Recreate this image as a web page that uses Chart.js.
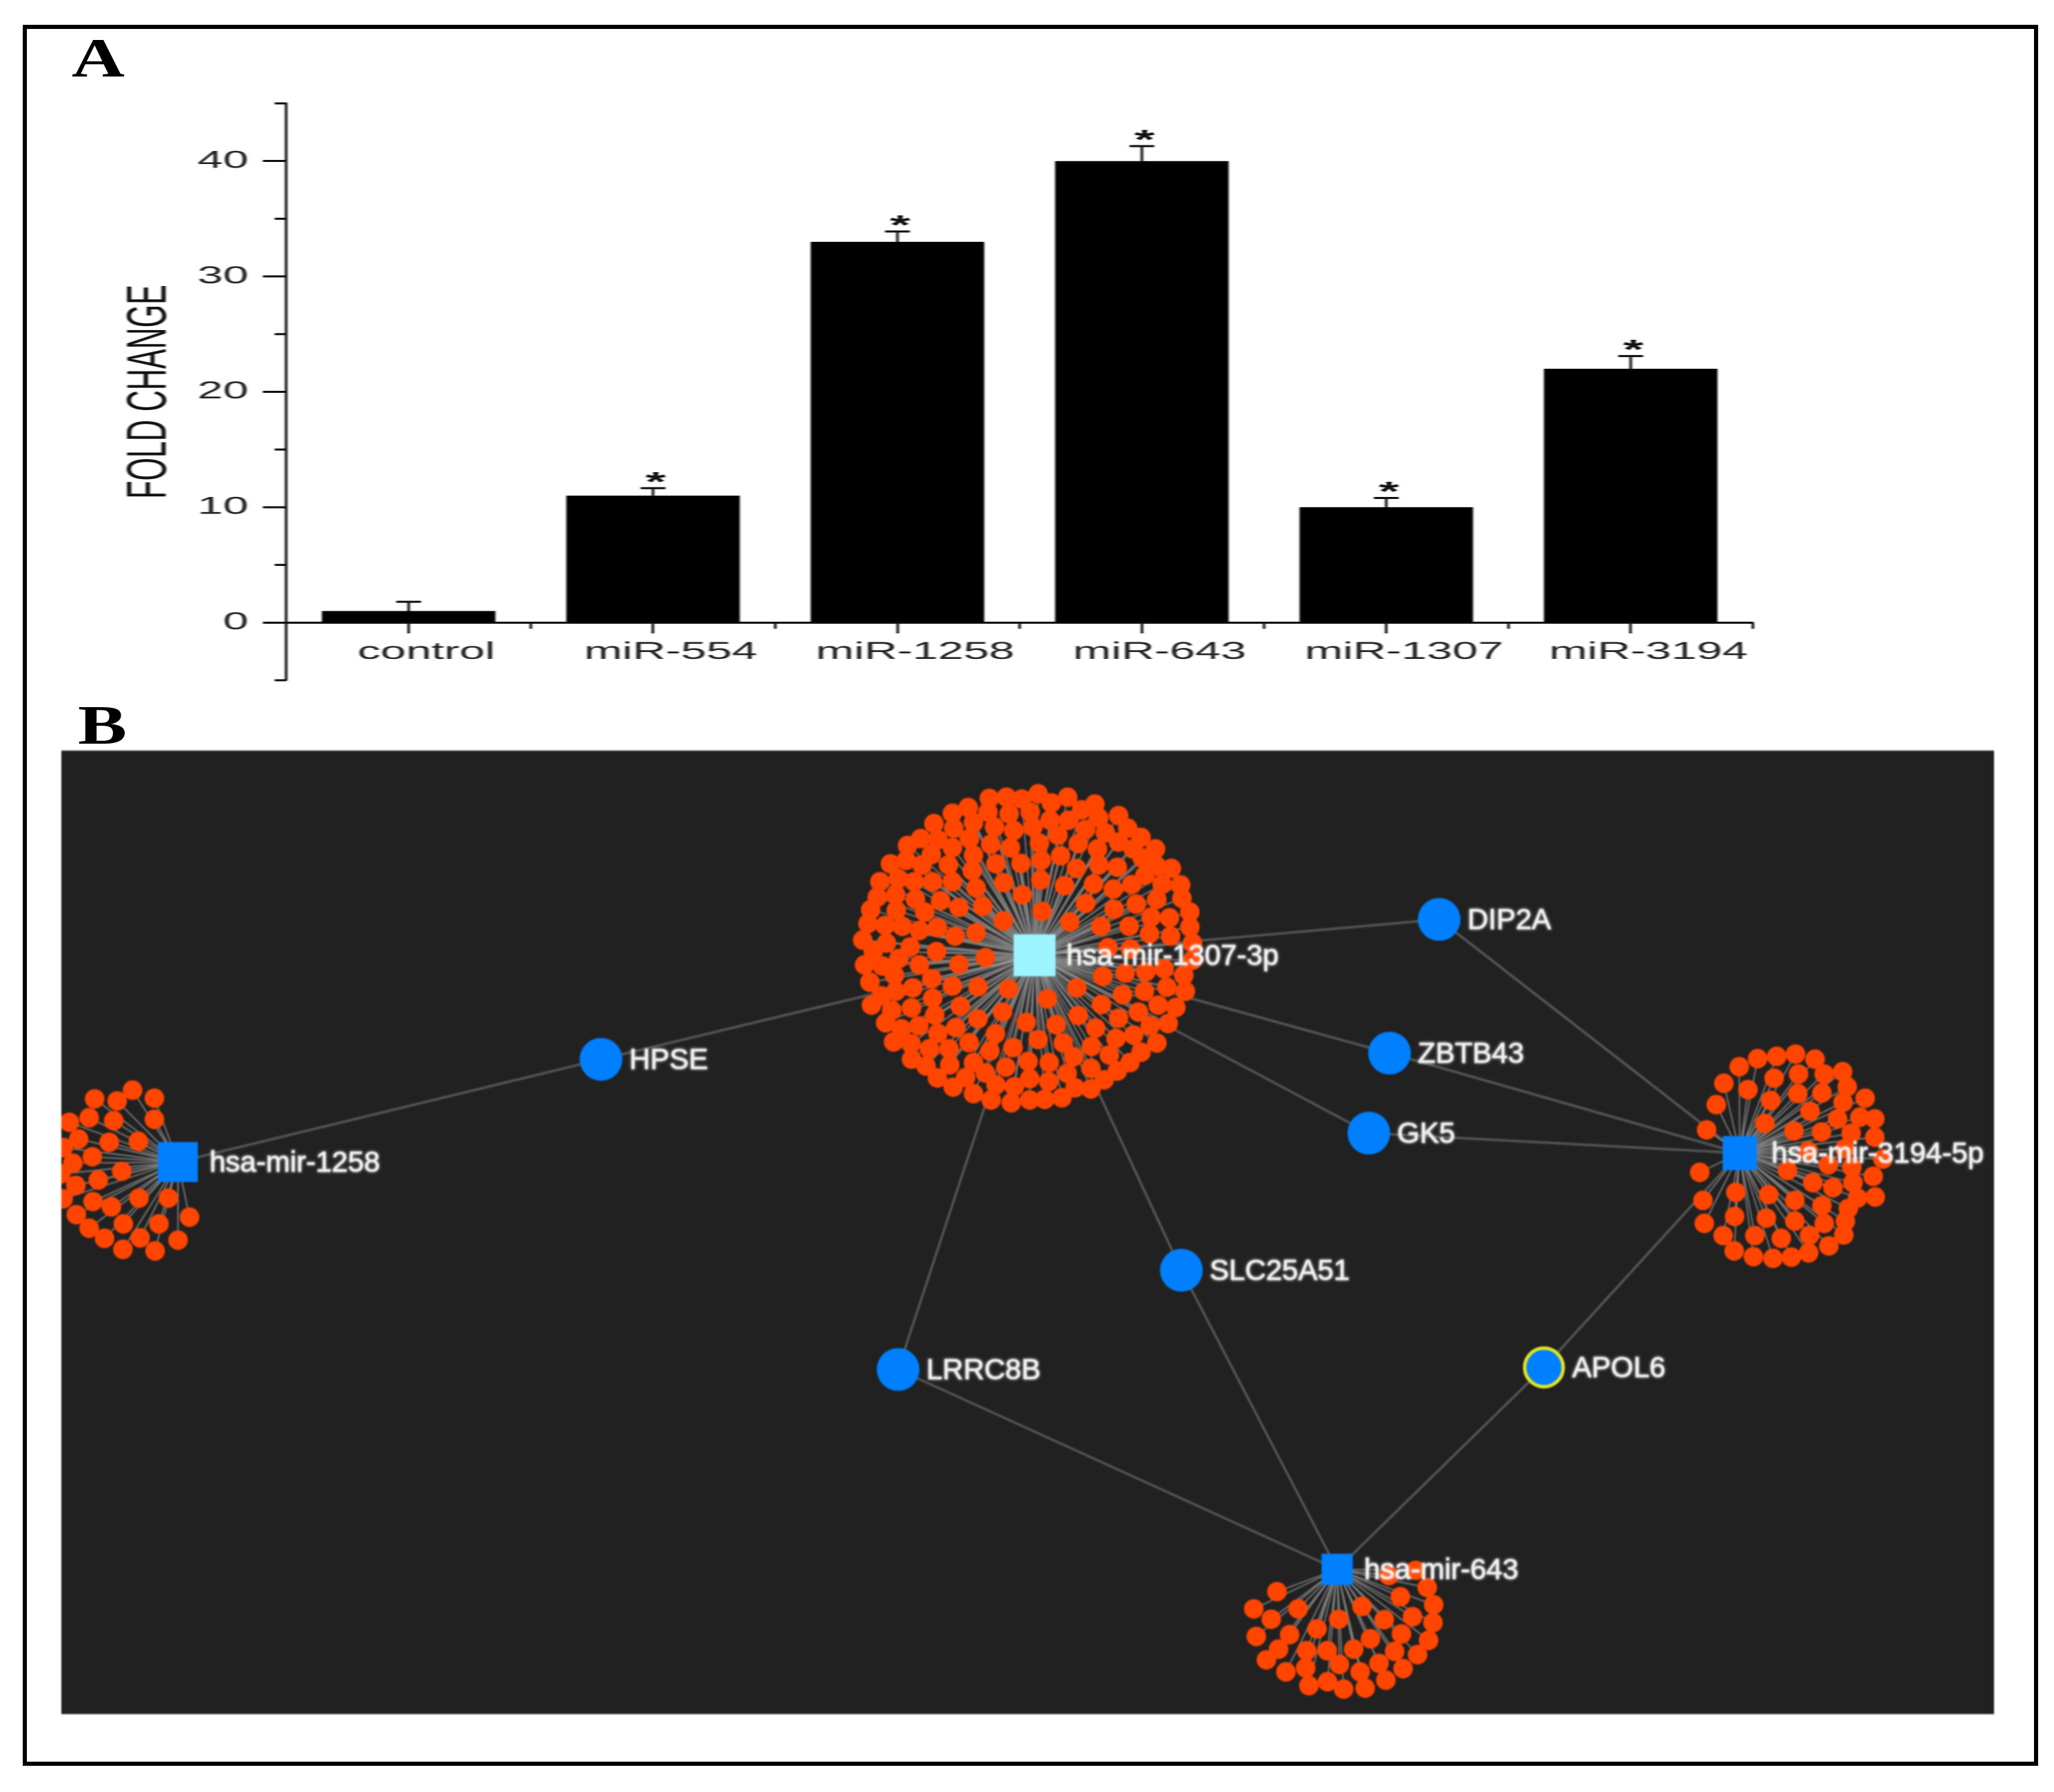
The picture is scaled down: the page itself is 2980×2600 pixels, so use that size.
<!DOCTYPE html>
<html>
<head>
<meta charset="utf-8">
<title>miRNA fold change and target network</title>
<script src="https://cdn.jsdelivr.net/npm/chart.js@4"></script>
<style>
  html, body { margin: 0; padding: 0; background: #fff; }
  #page { position: relative; width: 2980px; height: 2600px; overflow: hidden; }
  #frame { position: absolute; left: 33px; top: 36px; width: 2912px; height: 2514px; border: 6px solid #000; }
  .letter { position: absolute; font: bold 80px "Liberation Serif", serif; color: #000; transform: scaleX(1.33); transform-origin: 0 0; line-height: 1; }
  /* the bar chart of the original is a stretched picture, so its canvas is stretched too */
  #barWrap { position: absolute; left: 0; top: 0; width: 1568px; height: 1060px; transform: scaleX(1.9); transform-origin: 0 0; filter: blur(0.7px); }
  #netWrap { position: absolute; left: 89px; top: 1089px; width: 2804px; height: 1398px; filter: blur(0.9px); }
</style>
</head>
<body>
<div id="page">
  <div id="frame"></div>
  <div class="letter" style="left:104px;top:44px">A</div>
  <div class="letter" style="left:113px;top:1012px">B</div>
  <div id="barWrap"><canvas id="barChart" width="1568" height="1060"></canvas></div>
  <div id="netWrap"><canvas id="netChart" width="2804" height="1398"></canvas></div>
</div>
<script>
// panel A
var categories = ["control", "miR-554", "miR-1258", "miR-643", "miR-1307", "miR-3194"];
var foldChange = [1, 11, 33, 40, 10, 22];
var errorUp = [0.8, 0.65, 0.9, 1.3, 0.8, 1.1];
var significant = [false, true, true, true, true, true];

// panel B
var hubNames = ["hsa-mir-1258", "hsa-mir-1307-3p", "hsa-mir-3194-5p", "hsa-mir-643"];
var hubX = [258, 1501, 2524, 1940];
var hubY = [1686, 1386, 1673, 2277];
var geneNames = ["HPSE", "DIP2A", "ZBTB43", "GK5", "SLC25A51", "LRRC8B", "APOL6"];
var geneX = [872, 2088, 2016, 1986, 1714, 1303, 2240];
var geneY = [1537, 1334, 1528, 1644, 1843, 1987, 1984];
var edges = [
  ["hsa-mir-1258", "HPSE"], ["HPSE", "hsa-mir-1307-3p"],
  ["hsa-mir-1307-3p", "DIP2A"], ["hsa-mir-1307-3p", "ZBTB43"], ["hsa-mir-1307-3p", "GK5"],
  ["hsa-mir-1307-3p", "SLC25A51"], ["hsa-mir-1307-3p", "LRRC8B"],
  ["hsa-mir-3194-5p", "DIP2A"], ["hsa-mir-3194-5p", "ZBTB43"], ["hsa-mir-3194-5p", "GK5"], ["hsa-mir-3194-5p", "APOL6"],
  ["hsa-mir-643", "SLC25A51"], ["hsa-mir-643", "LRRC8B"], ["hsa-mir-643", "APOL6"]
];

// target nodes, each list: [x, y] in crop units
var leaves1307 = [
  [615,115],[680,110],[738,118],[800,95],[912,110],[1015,140],[1105,190],[850,135],[965,165],
  [535,155],[475,180],[610,175],[690,182],[770,175],[405,225],[555,220],[845,210],[915,210],[1030,200],[1140,245],[480,245],
  [635,240],[708,255],[780,240],[875,275],[980,250],[1055,265],[1190,285],[355,290],[420,295],[540,290],
  [305,320],[620,315],[695,330],[805,310],[952,312],[1025,335],[1105,305],[1245,335],[475,330],[1160,335],
  [395,360],[555,362],[885,365],[812,385],[1195,375],[240,400],[300,385],[360,405],[460,405],[640,400],[735,398],[1100,415],[1030,405],[945,420],[1305,420],[1250,410],
  [550,430],[810,470],[670,482],[900,495],[1010,488],[1085,510],[1155,490],[1205,450],[1270,490],[1340,492],[200,478],[270,465],[330,478],[400,478],[475,478],[565,505],
  [740,535],[260,535],[190,545],[335,555],[430,560],[500,590],[590,585],[980,572],[1088,598],[1172,575],[1250,555],[1345,550],[165,600],[262,602],[815,607],[370,610],[1375,610],
  [668,648],[920,653],[1038,672],[1145,672],[1228,632],[1298,635],[1375,675],[155,660],[220,668],[285,672],[350,690],[418,678],[565,700],[485,715],[1222,705],[1302,715],
  [135,732],[225,745],[315,762],[415,782],[175,780],[1385,745],[1065,765],[1150,770],[600,808],
  [142,840],[210,845],[272,812],[350,840],[500,838],[1385,820],[255,885],[397,900],[1045,890],[1130,875],[1208,870],[1278,857],[1352,885],
  [162,915],[475,932],[572,935],[688,945],[947,940],[325,940],[260,955],[205,975],[400,985],[1120,970],[1203,955],[1288,937],[1358,955],[835,988],
  [168,1015],[320,1027],[505,1020],[245,1038],[408,1058],[665,1045],[952,1060],[1040,1012],[1180,1045],[1255,1015],[1322,1025],[572,1075],[1105,1072],
  [222,1092],[348,1105],[488,1113],[755,1090],[868,1100],[1018,1115],[1225,1105],[1293,1095],[282,1118],[420,1138],[638,1140],[1162,1145],[1095,1160],
  [252,1175],[318,1183],[388,1205],[462,1205],[538,1178],[800,1165],[895,1180],[1002,1195],[1250,1180],[705,1200],[617,1215],[1190,1220],[1070,1232],
  [320,1250],[375,1280],[465,1275],[555,1265],[762,1260],[842,1265],[935,1240],[678,1285],[1000,1290],[1148,1265],[1100,1302],
  [418,1332],[525,1330],[600,1310],[910,1312],[768,1335],[840,1348],[478,1372],[640,1362],[710,1370],[1050,1340],[940,1375],[1000,1380],
  [555,1400],[622,1428],[698,1440],[768,1428],[825,1425],[890,1418]
];
var leaves3194 = [
  [370,203],[450,168],[533,158],[615,148],[700,170],[820,225],[740,235],[628,235],[522,253],[303,275],[408,303],[840,290],[918,340],
  [625,320],[730,317],[507,350],[270,368],[822,358],[678,397],[798,430],[895,423],[960,430],[482,450],[228,478],[608,483],[728,487],
  [857,493],[960,510],[830,560],[670,570],[758,630],[860,640],[995,605],[580,655],[198,663],[690,708],[865,708],[953,680],[778,730],
  [355,750],[498,760],[612,785],[212,785],[885,775],[962,770],[730,808],[845,820],[350,855],[488,862],[612,875],[740,885],[832,875],
  [218,885],[300,938],[438,938],[553,950],[676,937],[825,935],[760,983],[348,1005],[432,1030],[517,1037],[597,1032],[672,1013]
];
var leaves643 = [
  [795,258],[912,235],[962,310],[308,328],[845,350],[990,385],[207,403],[400,403],[678,392],[283,448],[577,448],[775,450],[898,437],
  [987,463],[482,490],[218,523],[363,515],[850,512],[715,533],[968,540],[315,578],[437,585],[527,585],[642,578],[820,588],[920,602],
  [262,625],[580,645],[752,640],[857,663],[347,677],[433,660],[670,677],[782,713],[447,737],[528,720],[598,752],[692,748]
];
var leaves1258 = [
  [397,125],[232,163],[330,172],[492,160],[122,265],[208,245],[315,258],[492,252],[162,338],[295,352],[422,348],[95,375],[222,415],
  [137,443],[350,478],[85,490],[248,516],[150,540],[425,595],[553,595],[95,598],[225,610],[305,633],[645,678],[152,667],[357,707],
  [512,707],[208,726],[430,768],[275,770],[595,778],[355,818],[495,825]
];

function fromCrop(list, ox, oy, sx, sy) {
  return list.map(function (p) { return { x: ox + p[0] / sx, y: oy + p[1] / sy }; });
}
var clusters = [
  { hub: 0, leaves: fromCrop(leaves1258, 60, 1540, 3, 3) },
  { hub: 1, leaves: fromCrop(leaves1307, 1200, 1120, 2.613, 3) },
  { hub: 2, leaves: fromCrop(leaves3194, 2400, 1480, 3, 3) },
  { hub: 3, leaves: fromCrop(leaves643, 1750, 2200, 3, 3) }
];

// ---- panel A ----
var barExtras = {
  id: "barExtras",
  afterDatasetsDraw: function (chart) {
    var ctx = chart.ctx, x = chart.scales.x, y = chart.scales.y;
    var step = x.getPixelForValue(1) - x.getPixelForValue(0);
    var zero = y.getPixelForValue(0);
    ctx.save();
    ctx.strokeStyle = "#111";
    ctx.fillStyle = "#111";

    // minor ticks
    ctx.lineWidth = 3;
    [-5, 5, 15, 25, 35, 45].forEach(function (v) {
      var py = y.getPixelForValue(v);
      ctx.beginPath(); ctx.moveTo(x.left - 9, py); ctx.lineTo(x.left, py); ctx.stroke();
    });
    ctx.lineWidth = 2;
    for (var i = 0; i < categories.length; i++) {
      var edge = x.getPixelForValue(i) + step / 2;
      ctx.beginPath(); ctx.moveTo(edge, zero); ctx.lineTo(edge, zero + 9); ctx.stroke();
    }

    // error bars and asterisks
    categories.forEach(function (c, i) {
      var px = x.getPixelForValue(i);
      var top = y.getPixelForValue(foldChange[i] + errorUp[i]);
      ctx.lineWidth = 2;
      ctx.beginPath(); ctx.moveTo(px, y.getPixelForValue(foldChange[i])); ctx.lineTo(px, top); ctx.stroke();
      ctx.lineWidth = 3;
      ctx.beginPath(); ctx.moveTo(px - 9.5, top); ctx.lineTo(px + 9.5, top); ctx.stroke();
      if (significant[i]) {
        ctx.font = "bold 40px 'Liberation Sans', Arial, sans-serif";
        ctx.textAlign = "center";
        ctx.textBaseline = "alphabetic";
        ctx.fillText("*", px + 2, top + 4);
      }
    });
    ctx.restore();
  }
};

new Chart(document.getElementById("barChart"), {
  type: "bar",
  data: {
    labels: categories,
    datasets: [{
      label: "FOLD CHANGE",
      data: foldChange,
      backgroundColor: "#000",
      barPercentage: 0.71,
      categoryPercentage: 1
    }]
  },
  options: {
    responsive: false,
    animation: false,
    devicePixelRatio: 2,
    layout: { padding: { left: 0, right: 229.5, top: 150, bottom: 73 } },
    plugins: { legend: { display: false }, tooltip: { enabled: false } },
    scales: {
      x: {
        position: { y: 0 },
        offset: true,
        grid: { offset: false, drawOnChartArea: false, tickLength: 14, tickWidth: 2, tickColor: "#111" },
        border: { color: "#111", width: 3 },
        ticks: {
          color: "#222", padding: 8, labelOffset: 13.5, maxRotation: 0, autoSkip: false,
          font: { family: "'Liberation Sans', Arial, sans-serif", size: 35 }
        }
      },
      y: {
        min: -5,
        max: 45,
        afterFit: function (s) { s.width = 218.7; },
        grid: {
          drawOnChartArea: false, tickLength: 18, tickWidth: 3,
          tickColor: function (c) { return c.tick.value % 10 === 0 ? "#111" : "transparent"; }
        },
        border: { color: "#111", width: 2 },
        title: {
          display: true, text: "FOLD CHANGE", color: "#111", padding: { top: 89, bottom: 0 },
          font: { family: "'Liberation Sans', Arial, sans-serif", size: 43 }
        },
        ticks: {
          stepSize: 5, autoSkip: false, color: "#222", padding: 11,
          font: { family: "'Liberation Sans', Arial, sans-serif", size: 35 },
          callback: function (v) { return v % 10 === 0 ? v : ""; }
        }
      }
    }
  },
  plugins: [barExtras]
});

// ---- panel B ----
function nodePos(name) {
  var i = hubNames.indexOf(name);
  if (i >= 0) return { x: hubX[i], y: hubY[i] };
  i = geneNames.indexOf(name);
  return { x: geneX[i], y: geneY[i] };
}

var edgeData = [];
edges.forEach(function (e) {
  edgeData.push(nodePos(e[0]), nodePos(e[1]), { x: null, y: null });
});

var spokeData = [];
var leafData = [];
clusters.forEach(function (c) {
  var hub = { x: hubX[c.hub], y: hubY[c.hub] };
  c.leaves.forEach(function (p) {
    spokeData.push(hub, p, { x: null, y: null });
    leafData.push(p);
  });
});

var netLabels = {
  id: "netLabels",
  afterDatasetsDraw: function (chart) {
    var ctx = chart.ctx, x = chart.scales.x, y = chart.scales.y;
    ctx.save();
    ctx.font = "42px 'Liberation Sans', Arial, sans-serif";
    ctx.textAlign = "left";
    ctx.textBaseline = "middle";
    ctx.fillStyle = "#f0f0f0";
    ctx.strokeStyle = "rgba(240,240,240,0.6)";
    ctx.lineWidth = 1.2;
    ctx.shadowColor = "rgba(255,255,255,0.7)";
    ctx.shadowBlur = 4;
    function put(text, px, py) {
      ctx.fillText(text, px, py + 2);
      ctx.strokeText(text, px, py + 2);
    }
    hubNames.forEach(function (n, i) {
      put(n, x.getPixelForValue(hubX[i]) + (n === "hsa-mir-643" ? 39 : 46), y.getPixelForValue(hubY[i]));
    });
    geneNames.forEach(function (n, i) {
      put(n, x.getPixelForValue(geneX[i]) + 41, y.getPixelForValue(geneY[i]));
    });
    ctx.restore();
  }
};

var panelBackground = {
  id: "panelBackground",
  beforeDraw: function (chart) {
    chart.ctx.save();
    chart.ctx.fillStyle = "#212121";
    chart.ctx.fillRect(0, 0, chart.width, chart.height);
    chart.ctx.restore();
  }
};

new Chart(document.getElementById("netChart"), {
  type: "scatter",
  data: {
    datasets: [
      { label: "edges", data: edgeData, showLine: true, spanGaps: false, borderColor: "#555", borderWidth: 3.5, pointRadius: 0, order: 4 },
      { label: "spokes", data: spokeData, showLine: true, spanGaps: false, borderColor: "rgba(200,200,200,0.55)", borderWidth: 1.8, pointRadius: 0, order: 3 },
      { label: "targets", data: leafData, backgroundColor: "#ff4500", borderWidth: 0, pointRadius: 14.2, order: 2 },
      {
        label: "genes",
        data: geneX.map(function (v, i) { return { x: v, y: geneY[i] }; }),
        backgroundColor: "#0080ff",
        borderColor: geneNames.map(function (n) { return n === "APOL6" ? "#e3e61e" : "#0080ff"; }),
        borderWidth: geneNames.map(function (n) { return n === "APOL6" ? 5 : 0; }),
        pointRadius: geneNames.map(function (n) { return n === "APOL6" ? 28 : 31; }),
        order: 1
      },
      {
        label: "miRNAs",
        data: hubX.map(function (v, i) { return { x: v, y: hubY[i] }; }),
        backgroundColor: ["#0080ff", "#9cf4ff", "#0080ff", "#0080ff"],
        borderWidth: 0,
        pointStyle: "rect",
        pointRadius: [41, 43, 35, 32],
        order: 0
      }
    ]
  },
  options: {
    responsive: false,
    animation: false,
    layout: { padding: 0, autoPadding: false },
    plugins: { legend: { display: false }, tooltip: { enabled: false } },
    scales: {
      x: { type: "linear", display: false, min: 89, max: 2893 },
      y: { type: "linear", display: false, min: 1089, max: 2487, reverse: true }
    }
  },
  plugins: [panelBackground, netLabels]
});
</script>
</body>
</html>
